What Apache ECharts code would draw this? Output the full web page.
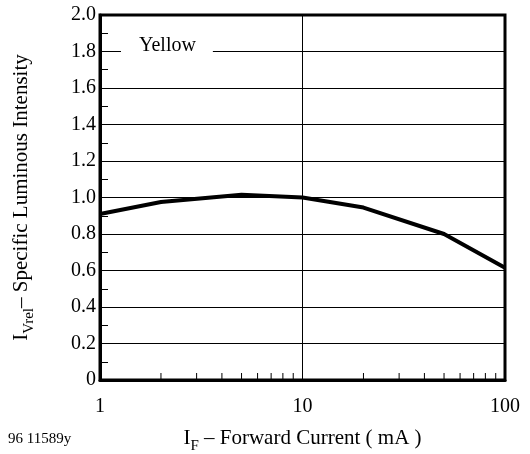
<!DOCTYPE html>
<html>
<head>
<meta charset="utf-8">
<script src="https://cdn.jsdelivr.net/npm/echarts@6/dist/echarts.min.js"></script>
<style>
  html, body { margin: 0; padding: 0; background: #fff; }
  #main { width: 530px; height: 454px; }
</style>
</head>
<body>
<div id="main"></div>
<script>
// forward current (mA) and relative luminous intensity
const current = [1, 2, 5, 10, 20, 50, 100];
const intensity = [0.91, 0.975, 1.015, 1.0, 0.945, 0.80, 0.615];
// minor ticks on the log axis
const xMinorTicks = [2, 3, 4, 5, 6, 7, 8, 9, 20, 30, 40, 50, 60, 70, 80, 90];

const font = 'Liberation Serif';
let chart = echarts.init(document.getElementById('main'));

chart.setOption({
  animation: false,
  grid: {
    left: 100, right: 25, top: 15, bottom: 74,
    outerBoundsMode: 'none',
    containLabel: false,
    show: true, borderColor: '#000', borderWidth: 3, backgroundColor: 'transparent'
  },
  xAxis: {
    type: 'log',
    logBase: 10,
    min: 1,
    max: 100,
    interval: 1,
    name: '{m|I}{s|F}{m| – Forward Current ( mA )}',
    nameLocation: 'middle',
    nameGap: 48,
    nameTextStyle: {
      rich: {
        m: { fontFamily: font, fontSize: 21, color: '#000' },
        s: { fontFamily: font, fontSize: 15, color: '#000', verticalAlign: 'bottom', padding: [0, 0, -5, 0] }
      }
    },
    axisLine: { show: true, lineStyle: { color: '#000', width: 3 } },
    axisTick: { show: false },
    axisLabel: { fontFamily: font, fontSize: 20, color: '#000', margin: 17 },
    splitLine: { show: true, lineStyle: { color: '#000', width: 1 } }
  },
  yAxis: {
    type: 'value',
    min: 0,
    max: 2,
    interval: 0.2,
    name: '{m|I}{s|Vrel}{m|– Specific Luminous Intensity}',
    nameLocation: 'middle',
    nameGap: 68,
    nameRotate: 90,
    nameTextStyle: {
      rich: {
        m: { fontFamily: font, fontSize: 21, color: '#000' },
        s: { fontFamily: font, fontSize: 15, color: '#000', verticalAlign: 'bottom', padding: [0, 0, -5, 0] }
      }
    },
    axisLine: { show: true, lineStyle: { color: '#000', width: 3 } },
    axisTick: { show: true, inside: true, length: 8, lineStyle: { color: '#000', width: 1 } },
    minorTick: { show: true, splitNumber: 2, length: 8, lineStyle: { color: '#000', width: 1 } },
    axisLabel: {
      fontFamily: font, fontSize: 20, color: '#000', margin: 4,
      formatter: function (v) { return v === 0 ? '0' : v.toFixed(1); }
    },
    splitLine: { show: true, lineStyle: { color: '#000', width: 1 } }
  },
  series: [
    {
      type: 'line',
      data: current.map((c, i) => [c, intensity[i]]),
      showSymbol: false,
      lineStyle: { color: '#000', width: 4 },
      z: 5
    },
    {
      type: 'custom',
      data: xMinorTicks.map(v => [v, 0]),
      renderItem: function (params, api) {
        const p = api.coord([api.value(0), 0]);
        return {
          type: 'line',
          shape: { x1: p[0], y1: p[1], x2: p[0], y2: p[1] - 7 },
          style: { stroke: '#000', lineWidth: 1 }
        };
      },
      silent: true,
      z: 4
    }
  ],
  graphic: [
    {
      type: 'text',
      left: 121,
      top: 34,
      z: 10,
      style: {
        text: 'Yellow',
        fontFamily: font,
        fontSize: 20,
        fill: '#000',
        backgroundColor: '#fff',
        padding: [2, 17, 2, 18]
      }
    },
    {
      type: 'text',
      left: 8,
      top: 432,
      style: { text: '96 11589y', fontFamily: font, fontSize: 15, fill: '#000' }
    }
  ]
});
</script>
</body>
</html>
